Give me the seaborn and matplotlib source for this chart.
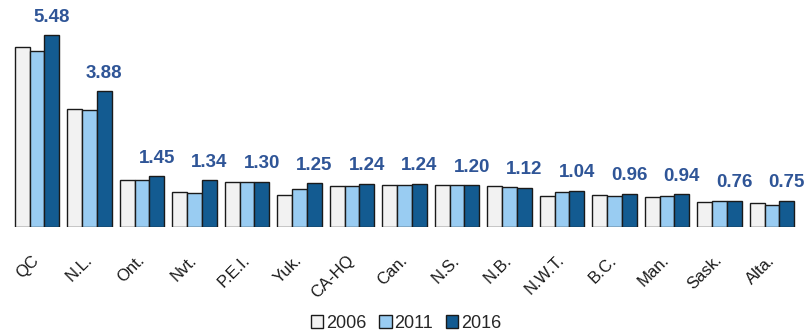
import matplotlib
matplotlib.use("Agg")
import matplotlib.pyplot as plt
import seaborn as sns
import pandas as pd
from matplotlib.patches import Patch

categories = ["QC", "N.L.", "Ont.", "Nvt.", "P.E.I.", "Yuk.", "CA-HQ", "Can.",
              "N.S.", "N.B.", "N.W.T.", "B.C.", "Man.", "Sask.", "Alta."]
years = ["2006", "2011", "2016"]
v2006 = [5.15, 3.38, 1.34, 1.01, 1.30, 0.91, 1.17, 1.20, 1.20, 1.18, 0.88, 0.91, 0.86, 0.71, 0.68]
v2011 = [5.04, 3.35, 1.36, 0.99, 1.30, 1.08, 1.17, 1.20, 1.20, 1.15, 1.01, 0.88, 0.88, 0.74, 0.65]
v2016 = [5.48, 3.88, 1.45, 1.34, 1.30, 1.25, 1.24, 1.24, 1.20, 1.12, 1.04, 0.96, 0.94, 0.76, 0.75]

colors = ["#F2F2F2", "#99CCF2", "#135B91"]

rows = []
for vals, yr in zip([v2006, v2011, v2016], years):
    for c, v in zip(categories, vals):
        rows.append({"cat": c, "year": yr, "value": v})
df = pd.DataFrame(rows)

sns.set_style("white")
plt.rcParams["font.family"] = ["Liberation Sans", "DejaVu Sans"]

fig = plt.figure(figsize=(8.12, 3.36), dpi=100)
ax = fig.add_axes([0.01324, 0.3235, 0.9698, 0.6467])

sns.barplot(data=df, x="cat", y="value", hue="year", order=categories,
            hue_order=years, palette=colors, width=0.84, edgecolor="#1a1a1a",
            linewidth=1.0, saturation=1, ax=ax, legend=False)

ax.set_xlim(-0.5, len(categories) - 0.5)
ax.set_ylim(0, 6.2)
for s in ax.spines.values():
    s.set_visible(False)
ax.set_yticks([])
ax.set_xlabel("")
ax.set_ylabel("")
ax.tick_params(axis="x", length=0, pad=22, labelsize=12, colors="#1a1a1a")
for lab in ax.get_xticklabels():
    lab.set_rotation(45)
    lab.set_ha("right")
    lab.set_va("center")
    lab.set_rotation_mode("anchor")

ax.bar_label(ax.containers[2], labels=[f"{v:.2f}" for v in v2016], padding=7,
             fontsize=13.5, fontweight="bold", color="#2F5597")

handles = [Patch(facecolor=c, edgecolor="#1a1a1a", linewidth=1.0) for c in colors]
fig.legend(handles, years, loc="lower center", bbox_to_anchor=(0.5, -0.035),
           ncol=3, frameon=False, fontsize=13, handlelength=0.7, handleheight=0.7,
           handletextpad=0.15, columnspacing=0.7)

fig.savefig("out.png", dpi=100)
